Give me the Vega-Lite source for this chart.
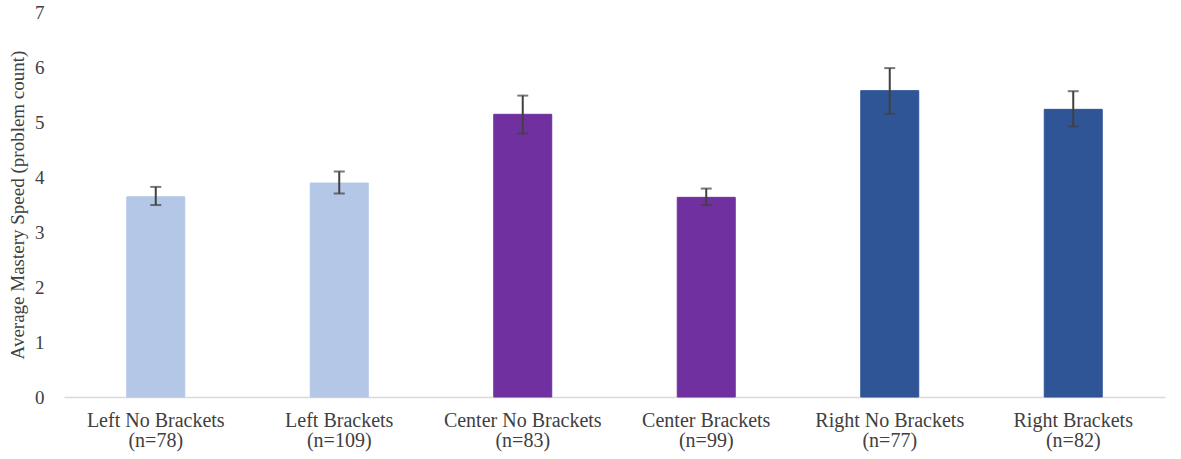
{
  "$schema": "https://vega.github.io/schema/vega-lite/v6.json",
  "width": 1101,
  "height": 385,
  "autosize": {"type": "none"},
  "padding": {"left": 64, "top": 12, "right": 16, "bottom": 62},
  "background": "white",
  "config": {
    "font": "Liberation Serif",
    "view": {"stroke": null},
    "axisX": {
      "labelFontSize": 20,
      "labelColor": "#404040",
      "labelPadding": 13,
      "labelLineHeight": 20,
      "ticks": false,
      "domainColor": "#d9d9d9",
      "domainWidth": 1.5,
      "labelAngle": 0
    },
    "axisY": {
      "titleFontSize": 19,
      "titleFontWeight": "normal",
      "titleColor": "#404040",
      "titlePadding": 7,
      "labelFontSize": 19,
      "labelColor": "#404040",
      "labelPadding": 20,
      "labelOverlap": false,
      "ticks": false,
      "domain": false,
      "grid": false
    }
  },
  "data": {
    "values": [
      {"group": "Left No Brackets|(n=78)", "side": "Left", "mean": 3.64, "lo": 3.49, "hi": 3.82},
      {"group": "Left Brackets|(n=109)", "side": "Left", "mean": 3.89, "lo": 3.7, "hi": 4.1},
      {"group": "Center No Brackets|(n=83)", "side": "Center", "mean": 5.14, "lo": 4.79, "hi": 5.48},
      {"group": "Center Brackets|(n=99)", "side": "Center", "mean": 3.63, "lo": 3.49, "hi": 3.79},
      {"group": "Right No Brackets|(n=77)", "side": "Right", "mean": 5.57, "lo": 5.15, "hi": 5.98},
      {"group": "Right Brackets|(n=82)", "side": "Right", "mean": 5.23, "lo": 4.92, "hi": 5.56}
    ]
  },
  "encoding": {
    "x": {
      "field": "group",
      "type": "nominal",
      "sort": null,
      "scale": {"paddingInner": 0, "paddingOuter": 0},
      "axis": {"title": null, "labelExpr": "split(datum.label, '|')"}
    }
  },
  "layer": [
    {
      "mark": {"type": "bar", "width": {"band": 0.316}, "strokeWidth": 1},
      "encoding": {
        "y": {
          "field": "mean",
          "type": "quantitative",
          "scale": {"domain": [0, 7]},
          "axis": {"title": "Average Mastery Speed (problem count)", "values": [0, 1, 2, 3, 4, 5, 6, 7]}
        },
        "color": {
          "field": "side",
          "type": "nominal",
          "scale": {"domain": ["Left", "Center", "Right"], "range": ["#b4c7e7", "#7030a0", "#2f5597"]},
          "legend": null
        },
        "stroke": {
          "field": "side",
          "type": "nominal",
          "scale": {"domain": ["Left", "Center", "Right"], "range": ["#b4c7e7", "#7030a0", "#2f5597"]},
          "legend": null
        }
      }
    },
    {
      "mark": {"type": "rule", "color": "#404040", "strokeWidth": 2},
      "encoding": {
        "y": {"field": "lo", "type": "quantitative", "axis": {"title": "Average Mastery Speed (problem count)", "values": [0, 1, 2, 3, 4, 5, 6, 7]}},
        "y2": {"field": "hi"}
      }
    },
    {
      "mark": {"type": "tick", "color": "#404040", "size": 11, "thickness": 2},
      "encoding": {"y": {"field": "lo", "type": "quantitative", "axis": {"title": "Average Mastery Speed (problem count)", "values": [0, 1, 2, 3, 4, 5, 6, 7]}}}
    },
    {
      "mark": {"type": "tick", "color": "#404040", "size": 11, "thickness": 2},
      "encoding": {"y": {"field": "hi", "type": "quantitative", "axis": {"title": "Average Mastery Speed (problem count)", "values": [0, 1, 2, 3, 4, 5, 6, 7]}}}
    }
  ]
}
